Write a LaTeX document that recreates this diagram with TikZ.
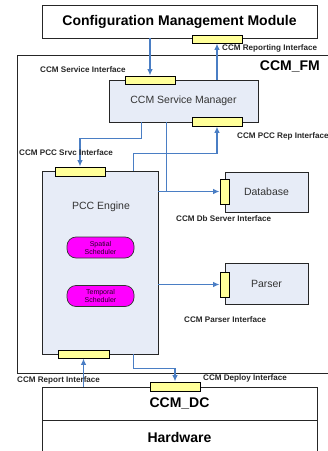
\documentclass[tikz,border=0pt]{standalone}
\usepackage{fontspec}
\setmainfont{Liberation Sans}
\usetikzlibrary{arrows.meta,calc}
\definecolor{lnblue}{HTML}{4A7EC4}
\definecolor{ifyel}{HTML}{FFFF99}
\definecolor{boxblue}{HTML}{E7ECF7}
\definecolor{mag}{HTML}{FF00FF}
\tikzset{
  plainbox/.style={draw=black!85,line width=0.8pt,fill=white,inner sep=0pt,rectangle},
  bluebox/.style={plainbox,fill=boxblue},
  iface/.style={draw=black,line width=0.8pt,fill=ifyel,inner sep=0pt,rectangle},
  sched/.style={draw=black!80,line width=0.7pt,fill=mag,rounded corners=9pt,inner sep=0pt,minimum width=67pt,minimum height=21pt,align=center,font=\fontsize{7}{8}\selectfont,text=black!85!mag},
  conn/.style={draw=lnblue,line width=1.5pt},
  arr/.style={conn,-{Latex[length=6.5pt,width=5.5pt]}},
  lbl/.style={font=\fontsize{8.1}{9}\selectfont\bfseries,inner sep=0pt,anchor=west,text=black!85},
  big/.style={font=\fontsize{14}{16}\selectfont\bfseries},
  mid/.style={font=\fontsize{10.5}{12}\selectfont,text=black!80},
}
\begin{document}
\begin{tikzpicture}[x=1pt,y=-1pt]
\path[use as bounding box,clip] (0,0) rectangle (328,451);
% main boxes
\node[plainbox,minimum width=275pt,minimum height=33pt,big] (cmm) at (179.5,21.5) {Configuration Management Module};
\node[plainbox,fill=none,minimum width=333pt,minimum height=318pt,anchor=north west] (fm) at (17,55) {};
\node[big,anchor=east,inner sep=0pt] (fmlbl) at (320,66) {CCM\_FM};
\node[bluebox,minimum width=149pt,minimum height=42pt,mid] (sm) at (183.5,101) {CCM Service Manager};
\node[bluebox,minimum width=116pt,minimum height=183pt] (pcc) at (100,262.5) {};
\node[mid,inner sep=0pt] (pcct) at (101,207) {PCC Engine};
\node[sched] (spat) at (100.5,247.5) {Spatial\\Scheduler};
\node[sched] (temp) at (100.5,296) {Temporal\\Scheduler};
\node[bluebox,minimum width=83pt,minimum height=40pt,mid] (db) at (266.5,192) {Database};
\node[bluebox,minimum width=83pt,minimum height=41pt,mid] (parser) at (266.5,283.5) {Parser};
\node[plainbox,minimum width=275pt,minimum height=33pt,big] (dc) at (179.5,403.5) {CCM\_DC};
\node[plainbox,minimum width=275pt,minimum height=50pt,anchor=north west] (hw) at (42,420) {};
\node[big,inner sep=0pt] (hwt) at (179.5,437) {Hardware};
% interfaces
\node[iface,minimum width=50pt,minimum height=8pt] (repif) at (217,39) {};
\node[iface,minimum width=50pt,minimum height=8pt] (srvif) at (150,80) {};
\node[iface,minimum width=50pt,minimum height=9pt] (pccrepif) at (217,121.5) {};
\node[iface,minimum width=50pt,minimum height=9pt] (pccsrvif) at (80,171.5) {};
\node[iface,minimum width=9pt,minimum height=25pt] (dbif) at (224.5,191.5) {};
\node[iface,minimum width=9pt,minimum height=25pt] (parserif) at (224.5,284.5) {};
\node[iface,minimum width=51pt,minimum height=8pt] (reportif) at (83.5,354) {};
\node[iface,minimum width=50pt,minimum height=9pt] (deployif) at (175,386.5) {};
% connectors
\draw[arr] (cmm.south -| srvif.north) -- (srvif.north);
\draw[arr] (sm.north -| repif.south) -- (repif.south);
\coordinate (smpcc) at ([xshift=33pt]sm.south west);
\draw[arr] (smpcc) -- ++(0,16) -| (pccsrvif.north);
\coordinate (pccup) at ([xshift=-25pt]pcc.north east);
\draw[arr] (pccup) -- ++(0,-17) -| (pccrepif.south);
\coordinate (smdb) at ([xshift=58pt]sm.south west);
\draw[conn] (smdb) -- (smdb |- dbif.west);
\draw[arr] (pcc.east |- dbif.west) -- (dbif.west);
\draw[arr] (pcc.east |- parserif.west) -- (parserif.west);
\draw[arr] (dc.north -| reportif.south) -- (reportif.south);
\coordinate (pccdn) at ([xshift=-25pt]pcc.south east);
\draw[arr] (pccdn) -- ++(0,14) -| (deployif.north);
% labels
\node[lbl] (l1) at (222,48) {CCM Reporting Interface};
\node[lbl] (l2) at (40,70) {CCM Service Interface};
\node[lbl] (l3) at (237,136) {CCM PCC Rep Interface};
\node[lbl] (l4) at (19,153) {CCM PCC Srvc Interface};
\node[lbl] (l5) at (176,219) {CCM Db Server Interface};
\node[lbl] (l6) at (184,320) {CCM Parser Interface};
\node[lbl] (l7) at (17,380) {CCM Report Interface};
\node[lbl] (l8) at (203,378) {CCM Deploy Interface};
\end{tikzpicture}
\end{document}
